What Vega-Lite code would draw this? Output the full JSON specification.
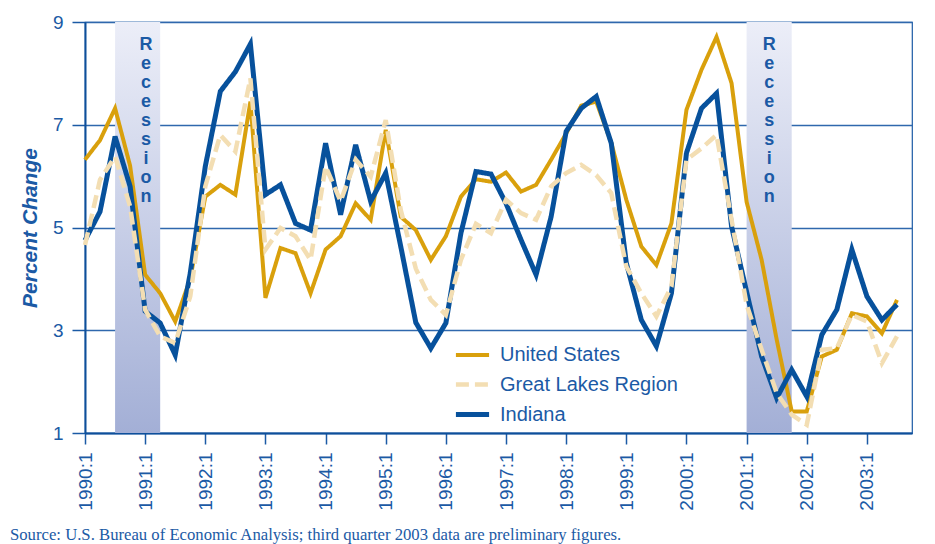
{
  "$schema": "https://vega.github.io/schema/vega-lite/v6.json",
  "width": 827,
  "height": 411,
  "autosize": {"type": "none"},
  "padding": {"left": 85, "top": 22, "right": 23, "bottom": 111},
  "background": "white",
  "config": {
    "view": {"stroke": "#1b5aa5", "strokeWidth": 1.2},
    "font": "Liberation Sans",
    "axis": {
      "labelFont": "Liberation Sans",
      "labelColor": "#1b5aa5",
      "titleColor": "#1b5aa5",
      "domainColor": "#0d4f9a",
      "domainWidth": 2,
      "tickColor": "#1b5aa5",
      "tickWidth": 1.5,
      "gridColor": "#2f68ad",
      "gridWidth": 1.4,
      "gridOpacity": 1
    },
    "legend": {
      "orient": "none",
      "legendX": 368,
      "legendY": 314,
      "symbolType": "stroke",
      "symbolSize": 1100,
      "labelFont": "Liberation Sans",
      "labelFontSize": 20,
      "labelColor": "#1b5aa5",
      "labelOffset": 8,
      "labelLimit": 0,
      "rowPadding": 0.5,
      "symbolOpacity": 1
    }
  },
  "title": {
    "text": "Source: U.S. Bureau of Economic Analysis; third quarter 2003 data are preliminary figures.",
    "orient": "bottom",
    "anchor": "start",
    "frame": "group",
    "dx": -75,
    "offset": 17,
    "font": "Liberation Serif",
    "fontSize": 16.7,
    "fontWeight": "normal",
    "color": "#1b5aa5"
  },
  "datasets": {
    "growth": [
      {"q": 0, "United States": 6.32, "Great Lakes Region": 4.66, "Indiana": 4.75},
      {"q": 1, "United States": 6.7, "Great Lakes Region": 5.93, "Indiana": 5.31},
      {"q": 2, "United States": 7.32, "Great Lakes Region": 6.38, "Indiana": 6.77},
      {"q": 3, "United States": 6.2, "Great Lakes Region": 5.41, "Indiana": 5.8},
      {"q": 4, "United States": 4.08, "Great Lakes Region": 3.4, "Indiana": 3.37},
      {"q": 5, "United States": 3.72, "Great Lakes Region": 2.88, "Indiana": 3.14},
      {"q": 6, "United States": 3.17, "Great Lakes Region": 2.75, "Indiana": 2.52},
      {"q": 7, "United States": 4.0, "Great Lakes Region": 3.66, "Indiana": 4.11},
      {"q": 8, "United States": 5.6, "Great Lakes Region": 5.8, "Indiana": 6.19},
      {"q": 9, "United States": 5.83, "Great Lakes Region": 6.8, "Indiana": 7.65},
      {"q": 10, "United States": 5.64, "Great Lakes Region": 6.48, "Indiana": 8.03},
      {"q": 11, "United States": 7.45, "Great Lakes Region": 7.9, "Indiana": 8.57},
      {"q": 12, "United States": 3.63, "Great Lakes Region": 4.57, "Indiana": 5.64},
      {"q": 13, "United States": 4.6, "Great Lakes Region": 4.99, "Indiana": 5.83},
      {"q": 14, "United States": 4.5, "Great Lakes Region": 4.83, "Indiana": 5.08},
      {"q": 15, "United States": 3.72, "Great Lakes Region": 4.37, "Indiana": 4.95},
      {"q": 16, "United States": 4.57, "Great Lakes Region": 6.19, "Indiana": 6.64},
      {"q": 17, "United States": 4.83, "Great Lakes Region": 5.51, "Indiana": 5.25},
      {"q": 18, "United States": 5.47, "Great Lakes Region": 6.32, "Indiana": 6.61},
      {"q": 19, "United States": 5.15, "Great Lakes Region": 5.99, "Indiana": 5.51},
      {"q": 20, "United States": 6.9, "Great Lakes Region": 7.09, "Indiana": 6.06},
      {"q": 21, "United States": 5.21, "Great Lakes Region": 5.34, "Indiana": 4.63},
      {"q": 22, "United States": 4.95, "Great Lakes Region": 4.2, "Indiana": 3.15},
      {"q": 23, "United States": 4.37, "Great Lakes Region": 3.59, "Indiana": 2.65},
      {"q": 24, "United States": 4.83, "Great Lakes Region": 3.3, "Indiana": 3.14},
      {"q": 25, "United States": 5.6, "Great Lakes Region": 4.37, "Indiana": 4.89},
      {"q": 26, "United States": 5.94, "Great Lakes Region": 5.07, "Indiana": 6.09},
      {"q": 27, "United States": 5.89, "Great Lakes Region": 4.89, "Indiana": 6.04},
      {"q": 28, "United States": 6.07, "Great Lakes Region": 5.54, "Indiana": 5.47},
      {"q": 29, "United States": 5.7, "Great Lakes Region": 5.28, "Indiana": 4.76},
      {"q": 30, "United States": 5.83, "Great Lakes Region": 5.15, "Indiana": 4.08},
      {"q": 31, "United States": 6.32, "Great Lakes Region": 5.8, "Indiana": 5.21},
      {"q": 32, "United States": 6.83, "Great Lakes Region": 6.06, "Indiana": 6.87},
      {"q": 33, "United States": 7.37, "Great Lakes Region": 6.22, "Indiana": 7.32},
      {"q": 34, "United States": 7.45, "Great Lakes Region": 6.02, "Indiana": 7.55},
      {"q": 35, "United States": 6.65, "Great Lakes Region": 5.67, "Indiana": 6.64},
      {"q": 36, "United States": 5.54, "Great Lakes Region": 4.24, "Indiana": 4.31},
      {"q": 37, "United States": 4.63, "Great Lakes Region": 3.72, "Indiana": 3.2},
      {"q": 38, "United States": 4.27, "Great Lakes Region": 3.27, "Indiana": 2.69},
      {"q": 39, "United States": 5.08, "Great Lakes Region": 3.85, "Indiana": 3.72},
      {"q": 40, "United States": 7.29, "Great Lakes Region": 6.32, "Indiana": 6.45},
      {"q": 41, "United States": 8.07, "Great Lakes Region": 6.54, "Indiana": 7.32},
      {"q": 42, "United States": 8.71, "Great Lakes Region": 6.8, "Indiana": 7.61},
      {"q": 43, "United States": 7.81, "Great Lakes Region": 5.15, "Indiana": 5.02},
      {"q": 44, "United States": 5.5, "Great Lakes Region": 3.5, "Indiana": 3.75},
      {"q": 45, "United States": 4.37, "Great Lakes Region": 2.62, "Indiana": 2.49},
      {"q": 46, "United States": 2.82, "Great Lakes Region": 1.78, "Indiana": 1.68},
      {"q": 47, "United States": 1.42, "Great Lakes Region": 1.36, "Indiana": 2.23},
      {"q": 48, "United States": 1.42, "Great Lakes Region": 1.16, "Indiana": 1.71},
      {"q": 49, "United States": 2.49, "Great Lakes Region": 2.62, "Indiana": 2.91},
      {"q": 50, "United States": 2.62, "Great Lakes Region": 2.65, "Indiana": 3.4},
      {"q": 51, "United States": 3.33, "Great Lakes Region": 3.3, "Indiana": 4.57},
      {"q": 52, "United States": 3.27, "Great Lakes Region": 3.17, "Indiana": 3.66},
      {"q": 53, "United States": 2.94, "Great Lakes Region": 2.36, "Indiana": 3.2},
      {"q": 54, "United States": 3.59, "Great Lakes Region": 2.88, "Indiana": 3.5}
    ],
    "recessions": [
      {"start": 2, "end": 5, "labelq": 4.05, "label": "R\ne\nc\ne\ns\ns\ni\no\nn"},
      {"start": 44, "end": 47, "labelq": 45.5, "label": "R\ne\nc\ne\ns\ns\ni\no\nn"}
    ]
  },
  "layer": [
    {
      "data": {"name": "recessions"},
      "mark": {
        "type": "rect",
        "color": {
          "gradient": "linear",
          "x1": 0, "y1": 0, "x2": 0, "y2": 1,
          "stops": [
            {"offset": 0, "color": "#eceef8"},
            {"offset": 1, "color": "#a3afd6"}
          ]
        }
      },
      "encoding": {
        "x": {"field": "start", "type": "quantitative"},
        "x2": {"field": "end"},
        "y": {"datum": 9},
        "y2": {"datum": 1}
      }
    },
    {
      "data": {"name": "recessions"},
      "mark": {
        "type": "text",
        "lineBreak": "\n",
        "lineHeight": 19,
        "baseline": "top",
        "align": "center",
        "dy": 14,
        "font": "Liberation Sans",
        "fontWeight": "bold",
        "fontSize": 18,
        "color": "#1b5aa5"
      },
      "encoding": {
        "x": {"field": "labelq", "type": "quantitative"},
        "y": {"datum": 9},
        "text": {"field": "label"}
      }
    },
    {
      "data": {"name": "growth"},
      "transform": [
        {"fold": ["United States"], "as": ["series", "value"]}
      ],
      "mark": {"type": "line", "strokeJoin": "miter", "strokeCap": "butt"},
      "encoding": {
        "x": {
          "field": "q", "type": "quantitative",
          "scale": {"domain": [0, 55], "nice": false, "zero": false},
          "axis": {
            "title": null,
            "values": [0,1,2,3,4,5,6,7,8,9,10,11,12,13,14,15,16,17,18,19,20,21,22,23,24,25,26,27,28,29,30,31,32,33,34,35,36,37,38,39,40,41,42,43,44,45,46,47,48,49,50,51,52,53,54,55],
            "labelExpr": "datum.value % 4 == 0 ? (1990 + datum.value / 4) + ':1' : ''",
            "labelAngle": 270,
            "labelFontSize": 19,
            "labelPadding": 8,
            "tickSize": 11,
            "grid": false,
            "labelOverlap": false,
            "labelBound": false,
            "labelFlush": false
          }
        },
        "y": {
          "field": "value", "type": "quantitative",
          "scale": {"domain": [1, 9], "nice": false, "zero": false},
          "axis": {
            "title": "Percent Change",
            "titleFont": "Liberation Sans",
            "titleFontSize": 21,
            "titleFontWeight": "bold",
            "titleFontStyle": "italic",
            "titlePadding": 12,
            "values": [1, 3, 5, 7, 9],
            "labelFontSize": 19,
            "labelPadding": 9,
            "tickSize": 13,
            "grid": true
          }
        },
        "color": {
          "field": "series", "type": "nominal",
          "scale": {"domain": ["United States", "Great Lakes Region", "Indiana"], "range": ["#d9a00c", "#f3deb3", "#07519c"]},
          "legend": {"title": null}
        },
        "strokeDash": {
          "field": "series", "type": "nominal",
          "scale": {"domain": ["United States", "Great Lakes Region", "Indiana"], "range": [[1, 0], [13, 6], [1, 0]]},
          "legend": {"title": null}
        },
        "strokeWidth": {
          "field": "series", "type": "nominal",
          "scale": {"domain": ["United States", "Great Lakes Region", "Indiana"], "range": [4, 5, 6.5]},
          "legend": {"title": null}
        }
      }
    },
    {
      "data": {"name": "growth"},
      "transform": [
        {"fold": ["Indiana"], "as": ["series", "value"]}
      ],
      "mark": {"type": "line", "strokeJoin": "miter", "strokeCap": "butt"},
      "encoding": {
        "x": {"field": "q", "type": "quantitative"},
        "y": {"field": "value", "type": "quantitative"},
        "color": {"field": "series", "type": "nominal"},
        "strokeDash": {"field": "series", "type": "nominal"},
        "strokeWidth": {"field": "series", "type": "nominal"}
      }
    },
    {
      "data": {"name": "growth"},
      "transform": [
        {"fold": ["Great Lakes Region"], "as": ["series", "value"]}
      ],
      "mark": {"type": "line", "strokeJoin": "miter", "strokeCap": "butt"},
      "encoding": {
        "x": {"field": "q", "type": "quantitative"},
        "y": {"field": "value", "type": "quantitative"},
        "color": {"field": "series", "type": "nominal"},
        "strokeDash": {"field": "series", "type": "nominal"},
        "strokeWidth": {"field": "series", "type": "nominal"}
      }
    }
  ]
}
